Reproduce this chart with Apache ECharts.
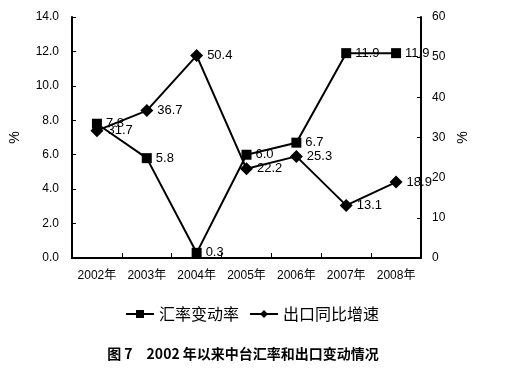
<!DOCTYPE html>
<html><head><meta charset="utf-8">
<script src="https://cdn.jsdelivr.net/npm/echarts@6/dist/echarts.min.js"></script>
<style>html,body{margin:0;padding:0;background:#fff}#c{width:512px;height:384px}</style>
</head><body><div id="c"></div>
<script>
var categories = ['2002年','2003年','2004年','2005年','2006年','2007年','2008年'];
var rateChange = [7.8, 5.8, 0.3, 6.0, 6.7, 11.9, 11.9];
var exportGrowth = [31.7, 36.7, 50.4, 22.2, 25.3, 13.1, 18.9];
var leftTicks = [0, 14, 2];
var rightTicks = [0, 60, 10];

var FONT = '"Liberation Sans", Arial, "Noto Sans CJK SC", sans-serif';
var chart = echarts.init(document.getElementById('c'));
var axisLine = {show: true, lineStyle: {color: '#000', width: 2}};
chart.setOption({
  animation: false,
  backgroundColor: '#fff',
  textStyle: {fontFamily: FONT, color: '#000'},
  grid: {left: 69, right: 91, top: 17, bottom: 126, containLabel: false},
  title: {
    text: '图 7　2002 年以来中台汇率和出口变动情况',
    left: 238, textAlign: 'center', top: 342,
    textStyle: {fontFamily: '"Noto Sans CJK SC", sans-serif', fontSize: 14, fontWeight: 'bold', color: '#000'}
  },
  legend: {
    top: 301, left: 120,
    itemWidth: 28, itemHeight: 10, itemGap: 10,
    textStyle: {fontFamily: '"Noto Sans CJK SC", sans-serif', fontSize: 16, color: '#000'},
    data: ['汇率变动率', '出口同比增速']
  },
  xAxis: {
    type: 'category', data: categories, boundaryGap: true,
    axisLine: axisLine,
    axisTick: {show: true, inside: true, length: 5, lineStyle: {color: '#000', width: 1}},
    axisLabel: {interval: 0, fontFamily: FONT, fontSize: 12, color: '#000', margin: 12}
  },
  yAxis: [{
    type: 'value', min: leftTicks[0], max: leftTicks[1], interval: leftTicks[2],
    name: '%', nameLocation: 'middle', nameGap: 50, nameRotate: 90,
    nameTextStyle: {fontSize: 14, color: '#000'},
    axisLine: axisLine, splitLine: {show: false},
    axisTick: {show: true, inside: true, length: 4, lineStyle: {color: '#000', width: 1}},
    axisLabel: {fontFamily: FONT, fontSize: 12, color: '#000', margin: 13,
      formatter: function (v) { return v.toFixed(1); }}
  }, {
    type: 'value', min: rightTicks[0], max: rightTicks[1], interval: rightTicks[2],
    name: '%', nameLocation: 'middle', nameGap: 34, nameRotate: 90,
    nameTextStyle: {fontSize: 14, color: '#000'},
    axisLine: axisLine, splitLine: {show: false},
    axisTick: {show: true, inside: true, length: 4, lineStyle: {color: '#000', width: 1}},
    axisLabel: {fontFamily: FONT, fontSize: 12, color: '#000', margin: 11}
  }],
  series: [{
    name: '汇率变动率', type: 'line', yAxisIndex: 0, data: rateChange,
    symbol: 'rect', symbolSize: 10,
    lineStyle: {color: '#000', width: 2}, itemStyle: {color: '#000'},
    label: {show: true, position: 'right', distance: 4, fontFamily: FONT, fontSize: 13, color: '#000',
      formatter: function (p) { return p.value.toFixed(1); }}
  }, {
    name: '出口同比增速', type: 'line', yAxisIndex: 1, data: exportGrowth,
    symbol: 'diamond', symbolSize: 13,
    lineStyle: {color: '#000', width: 2}, itemStyle: {color: '#000'},
    label: {show: true, position: 'right', distance: 4, fontFamily: FONT, fontSize: 13, color: '#000',
      formatter: function (p) { return p.value.toFixed(1); }}
  }]
});
</script></body></html>
